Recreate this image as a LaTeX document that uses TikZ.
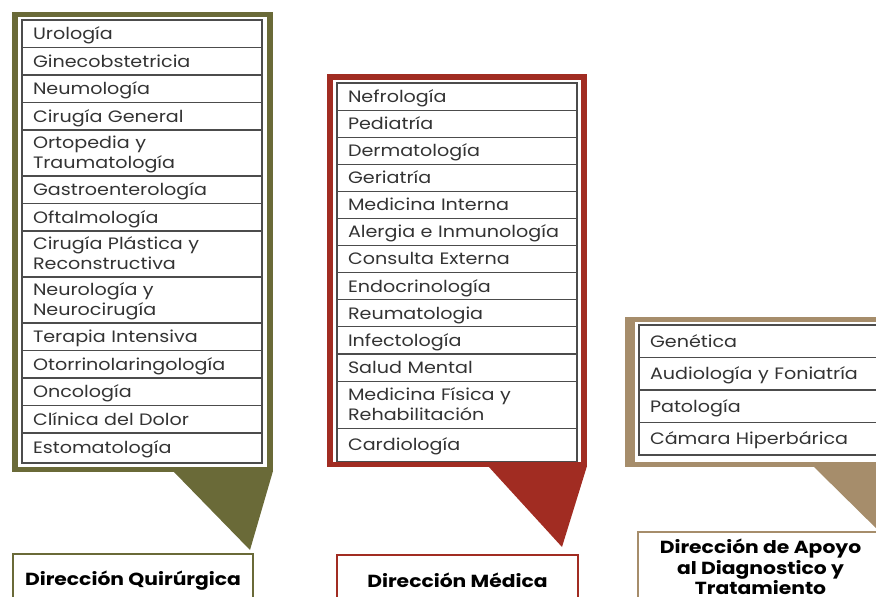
\documentclass[tikz,border=0pt]{standalone}
\usepackage{fontspec}
\setmainfont{Poppins}[FakeStretch=1.16]
\usepackage{xcolor}
\usetikzlibrary{positioning}
\definecolor{olivo}{HTML}{6A6A38}
\definecolor{vino}{HTML}{A12C22}
\definecolor{arena}{HTML}{A68D6B}
\definecolor{tinta}{HTML}{333333}

\begin{document}
\begin{tikzpicture}[x=1pt,y=-1pt,node distance=0pt,
  area/.style={draw=gray!60!black,line width=1.1pt,fill=white,anchor=north west,
    text width=218pt,inner xsep=11pt,inner ysep=0pt,outer sep=0pt,align=left,
    text height=14pt,text depth=2.5pt,
    minimum height=27.5pt,font=\fontsize{16.5}{20}\selectfont,text=tinta},
  doble/.style={minimum height=46pt,text depth=22.5pt},
  direccion/.style={draw=#1,line width=2pt,fill=white,anchor=north west,
    inner sep=0pt,outer sep=0pt,align=center,
    font=\bfseries\fontsize{17.5}{20.5}\selectfont,text=black}]
  \useasboundingbox (0,0) rectangle (876,597);
  \clip (0,0) rectangle (876,597);

  % marcos
  \fill[olivo] (12,12) rectangle (273,472);
  \fill[white] (18,17) rectangle (267,467);
  \fill[olivo] (173,471) -- (273,471) -- (250,550) -- cycle;
  \fill[vino] (327,74) rectangle (587,467);
  \fill[white] (333,80) rectangle (581,462);
  \fill[vino] (488,466) -- (587,466) -- (562,547) -- cycle;
  \fill[arena] (625,317) rectangle (905,467);
  \fill[white] (635,322) rectangle (900,462);
  \fill[arena] (813,466) -- (905,466) -- (885,537) -- cycle;

  % Direccion Quirurgica
  \node[area] (q1) at (22,20) {Urología};
  \node[area] (q2) [below=of q1] {Ginecobstetricia};
  \node[area] (q3) [below=of q2] {Neumología};
  \node[area] (q4) [below=of q3] {Cirugía General};
  \node[area,doble] (q5) [below=of q4] {Ortopedia y\\Traumatología};
  \node[area] (q6) [below=of q5] {Gastroenterología};
  \node[area] (q7) [below=of q6] {Oftalmología};
  \node[area,doble] (q8) [below=of q7] {Cirugía Plástica y\\Reconstructiva};
  \node[area,doble] (q9) [below=of q8] {Neurología y\\Neurocirugía};
  \node[area] (q10) [below=of q9] {Terapia Intensiva};
  \node[area] (q11) [below=of q10] {Otorrinolaringología};
  \node[area] (q12) [below=of q11] {Oncología};
  \node[area] (q13) [below=of q12] {Clínica del Dolor};
  \node[area,minimum height=30pt] (q14) [below=of q13] {Estomatología};
  \node[direccion=olivo,minimum width=240pt,minimum height=54pt] (dq) at (13,554) {Dirección Quirúrgica};

  % Direccion Medica
  \node[area,minimum height=27.1pt] (m1) at (337,83) {Nefrología};
  \node[area,minimum height=27.1pt] (m2) [below=of m1] {Pediatría};
  \node[area,minimum height=27.1pt] (m3) [below=of m2] {Dermatología};
  \node[area,minimum height=27.1pt] (m4) [below=of m3] {Geriatría};
  \node[area,minimum height=27.1pt] (m5) [below=of m4] {Medicina Interna};
  \node[area,minimum height=27.1pt] (m6) [below=of m5] {Alergia e Inmunología};
  \node[area,minimum height=27.1pt] (m7) [below=of m6] {Consulta Externa};
  \node[area,minimum height=27.1pt] (m8) [below=of m7] {Endocrinología};
  \node[area,minimum height=27.1pt] (m9) [below=of m8] {Reumatologia};
  \node[area,minimum height=27.1pt] (m10) [below=of m9] {Infectología};
  \node[area,minimum height=27.1pt] (m11) [below=of m10] {Salud Mental};
  \node[area,doble,minimum height=47pt] (m12) [below=of m11] {Medicina Física y\\Rehabilitación};
  \node[area,minimum height=33pt] (m13) [below=of m12] {Cardiología};
  \node[direccion=vino,minimum width=241pt,minimum height=50pt] (dm) at (337,555) {Dirección Médica};

  % Direccion de Apoyo
  \node[area,text width=240pt,minimum height=32.5pt] (a1) at (639,325) {Genética};
  \node[area,text width=240pt,minimum height=32.5pt] (a2) [below=of a1] {Audiología y Foniatría};
  \node[area,text width=240pt,minimum height=32.5pt] (a3) [below=of a2] {Patología};
  \node[area,text width=240pt,minimum height=32.5pt] (a4) [below=of a3] {Cámara Hiperbárica};
  \node[direccion=arena,minimum width=245pt,minimum height=70pt] (da) at (638,532) {Dirección de Apoyo\\al Diagnostico y\\Tratamiento};
\end{tikzpicture}
\end{document}
